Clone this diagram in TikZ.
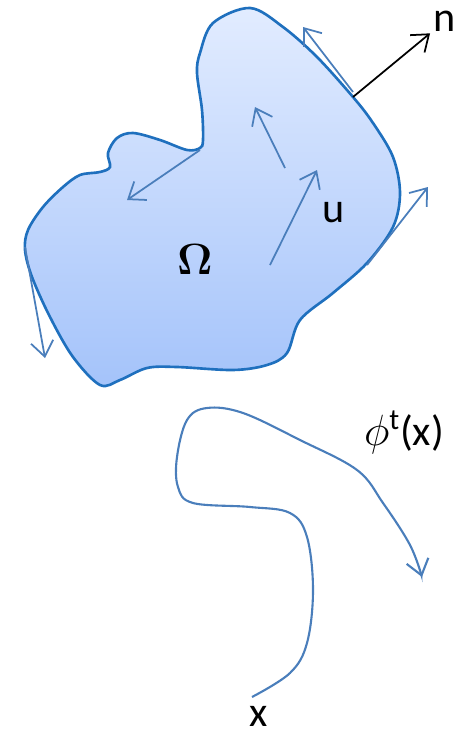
\documentclass[tikz,border=0pt]{standalone}
\usepackage{fontspec}
\setsansfont{Carlito}
\usetikzlibrary{arrows.meta}
\definecolor{blobline}{RGB}{31,112,190}
\definecolor{blobtop}{RGB}{226,236,255}
\definecolor{blobbot}{RGB}{164,195,250}
\definecolor{vec}{RGB}{74,126,187}
\tikzset{vecarrow/.style={color=vec,line width=1pt,-{Straight Barb[length=3mm,width=4.5mm]}}}
\begin{document}
\begin{tikzpicture}[x=0.02cm,y=-0.02cm,font=\sffamily\fontsize{24}{28}\selectfont]
		\useasboundingbox (0,0) rectangle (468,734);
		% the domain
		\draw[blobline,line width=1.5pt,top color=blobtop,bottom color=blobbot] plot[smooth cycle,tension=0.55] coordinates {(250,8) (283,27) (317,57) (353,97) (373,123) (393,157) (400,193) (393,227) (367,263) (333,293) (300,320) (287,353) (267,365) (233,370) (177,367) (147,368) (120,380) (100,385) (73,357) (50,317) (32,277) (25,250) (28,230) (43,207) (63,187) (80,175) (100,172) (110,167) (108,153) (117,138) (133,133) (160,140) (187,150) (200,148) (203,140) (202,110) (197,73) (200,53) (213,23)};
		\node[font=\fontsize{30}{34}\selectfont\boldmath] (omega) at (195,259) {$\Omega$};
		\node (u) at (334,213) {u};
		\node[inner sep=2pt] (n) at (445,21) {n};
		% velocity field
		\draw[vecarrow] (353,92) -- (303,27);
		\draw[vecarrow] (285,168) -- (255,107);
		\draw[vecarrow] (270,265) -- (317,170);
		\draw[vecarrow] (200,150) -- (127,200);
		\draw[vecarrow] (367,265) -- (428,187);
		\draw[vecarrow] (25,247) -- (45,358);
		\draw[black,line width=1pt,-{Straight Barb[length=3mm,width=4.5mm]}] (353,97) -- (n);
		% trajectory
		\node (x) at (259,716) {x};
		\node (phi) at (404,432) {$\phi$\textsuperscript{t}(x)};
		\draw[vecarrow,line width=1.2pt] plot[smooth,tension=0.6] coordinates {(252,697) (290,673) (307,643) (313,590) (307,537) (290,513) (250,507) (193,503) (178,487) (177,457) (187,420) (207,408) (243,413) (300,440) (357,470) (383,503) (410,545) (422,577)};
\end{tikzpicture}
\end{document}
